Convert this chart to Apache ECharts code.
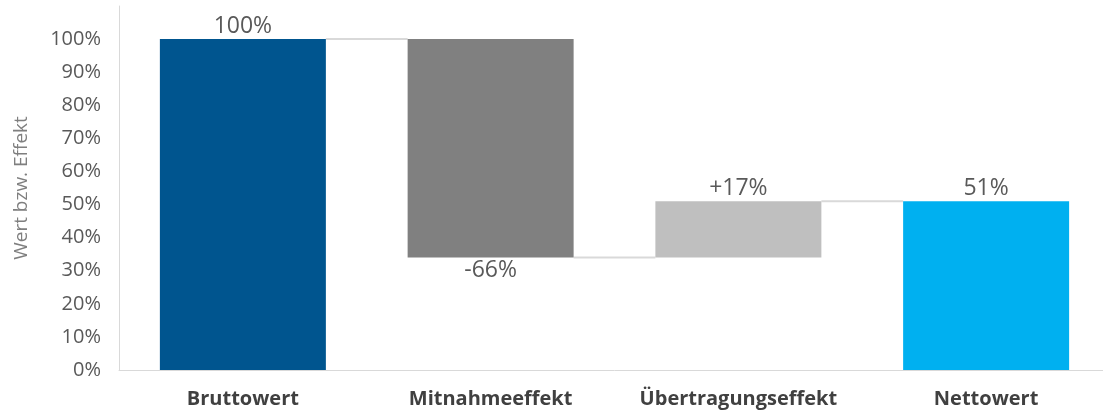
<!DOCTYPE html>
<html>
<head>
    <meta charset="utf-8">
    <title>Wasserfall</title>
    <script src="https://cdn.jsdelivr.net/npm/echarts@6/dist/echarts.min.js"></script>
    <style>
        body { margin: 0; background: #fff; overflow: hidden; }
        #chart { width: 1110px; height: 414px; }
    </style>
</head>
<body>
    <div id="chart"></div>
    <script type="text/javascript">
        var categories = ["Bruttowert", "Mitnahmeeffekt", "Übertragungseffekt", "Nettowert"];
        var baseValues = [0, 34, 34, 0];
        var barValues = [100, 66, 17, 51];
        var barLabels = ["100%", "-66%", "+17%", "51%"];
        var labelPos = ["top", "bottom", "top", "top"];
        var barColors = ["#00558f", "#808080", "#bfbfbf", "#00b0f0"];
        // connector level after each step
        var connectors = [[0, 100], [1, 34], [2, 51]];
        var yTicks = [0, 10, 20, 30, 40, 50, 60, 70, 80, 90, 100];

        var barRatio = 0.67;
        var myChart = echarts.init(document.getElementById("chart"));

        var mainData = barValues.map(function (v, i) {
            return {
                value: v,
                itemStyle: { color: barColors[i] },
                label: { formatter: barLabels[i], position: labelPos[i] }
            };
        });

        var option = {
            animation: false,
            // plot area runs a little past the right edge of the window, as in the source
            grid: { left: 119, right: 0, top: 6, bottom: 44 },
            xAxis: {
                type: 'category',
                data: categories,
                axisLine: { lineStyle: { color: '#d9d9d9', width: 1 } },
                axisTick: { show: false },
                axisLabel: {
                    color: '#404040', fontSize: 20, fontWeight: 'bold',
                    fontFamily: 'Open Sans', margin: 19, interval: 0
                }
            },
            yAxis: {
                type: 'value',
                min: 0, max: 110, interval: 10,
                name: 'Wert bzw. Effekt',
                nameLocation: 'middle',
                nameGap: 88,
                nameRotate: 90,
                nameTextStyle: { color: '#7f7f7f', fontSize: 19, fontFamily: 'Open Sans' },
                axisLine: { show: true, lineStyle: { color: '#d9d9d9', width: 1 } },
                axisTick: { show: false },
                splitLine: { show: false },
                axisLabel: {
                    color: '#595959', fontSize: 20, fontFamily: 'Open Sans', margin: 18,
                    formatter: function (v) { return yTicks.indexOf(v) >= 0 ? v + '%' : ''; }
                }
            },
            series: [
                {
                    type: 'bar',
                    stack: 'w',
                    data: baseValues,
                    itemStyle: { color: 'transparent' },
                    barWidth: (barRatio * 100) + '%',
                    silent: true
                },
                {
                    type: 'bar',
                    stack: 'w',
                    data: mainData,
                    barWidth: (barRatio * 100) + '%',
                    label: {
                        show: true, color: '#595959', fontSize: 23,
                        fontFamily: 'Open Sans', distance: 1
                    }
                },
                {
                    type: 'custom',
                    data: connectors,
                    z: 1,
                    renderItem: function (params, api) {
                        var idx = api.value(0);
                        var val = api.value(1);
                        var p1 = api.coord([idx, val]);
                        var p2 = api.coord([idx + 1, val]);
                        var half = api.size([1, 0])[0] * barRatio / 2;
                        return {
                            type: 'line',
                            shape: { x1: p1[0] + half, y1: p1[1], x2: p2[0] - half, y2: p2[1] },
                            style: { stroke: '#d9d9d9', lineWidth: 2 }
                        };
                    }
                }
            ]
        };
        myChart.setOption(option);
    </script>
</body>
</html>
